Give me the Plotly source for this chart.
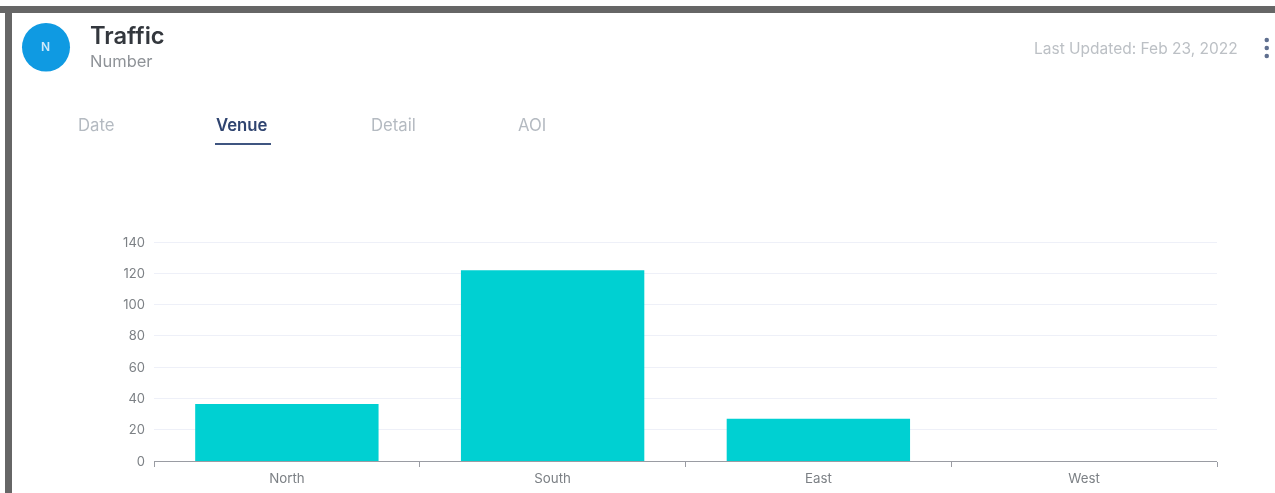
import plotly.graph_objects as go

W, H = 1275, 493
venues = ["North", "South", "East", "West"]
traffic = [36.5, 122, 27, 0]
y_ticks = [0, 20, 40, 60, 80, 100, 120, 140]
tabs = ["Date", "Venue", "Detail", "AOI"]
tab_centers = [96, 242, 393, 532]
FONT = "Inter, Roboto, sans-serif"


def px(x):
    return x / W


def py(y):
    return 1 - y / H


fig = go.Figure(
    go.Bar(x=venues, y=traffic, marker=dict(color="#00d0d2", line=dict(width=0)), width=0.69)
)

shapes = [
    dict(type="rect", xref="paper", yref="paper", x0=px(0), x1=px(W), y0=py(6), y1=py(13),
         fillcolor="#666666", line_width=0, layer="above"),
    dict(type="rect", xref="paper", yref="paper", x0=px(5), x1=px(12), y0=py(6), y1=py(H),
         fillcolor="#666666", line_width=0, layer="above"),
    dict(type="circle", xref="paper", yref="paper", x0=px(22), x1=px(70), y0=py(71.5), y1=py(23),
         fillcolor="#0f9ae2", line_width=0, layer="above"),
    dict(type="rect", xref="paper", yref="paper", x0=px(215), x1=px(271), y0=py(145), y1=py(143),
         fillcolor="#3f5580", line_width=0, layer="above"),
]
for cy in (40, 48, 56):
    shapes.append(dict(type="circle", xref="paper", yref="paper", x0=px(1264.5), x1=px(1269),
                       y0=py(cy + 2.3), y1=py(cy - 2.3), fillcolor="#5f6f8f", line_width=0,
                       layer="above"))


def label(text, x, y, size, color, anchor="left", weight=None):
    return dict(text=text, xref="paper", yref="paper", x=px(x), y=py(y), showarrow=False,
                xanchor=anchor, yanchor="middle",
                font=dict(family=FONT, size=size, color=color, weight=weight))


annotations = [
    label("N", 45.5, 46.5, 12, "#cfe9fa", "center", 600),
    label("Traffic", 88, 35.5, 23.7, "#33373d", "left", 600),
    label("Number", 87.5, 61, 16.5, "#8f9398"),
    label("Last Updated: Feb 23, 2022", 1240, 48, 15.5, "#bcc0c5", "right"),
]
for name, cx in zip(tabs, tab_centers):
    active = name == "Venue"
    annotations.append(label(name, cx, 125, 16.7, "#2f4470" if active else "#b4bac1", "center",
                             600 if active else 400))

fig.update_layout(
    width=W, height=H,
    autosize=False,
    margin=dict(l=0, r=0, t=0, b=0),
    paper_bgcolor="white",
    plot_bgcolor="white",
    showlegend=False,
    font=dict(family=FONT, size=13, color="#7c8085"),
    shapes=shapes,
    annotations=annotations,
    xaxis=dict(
        domain=[px(154), px(1217)],
        tickson="boundaries", ticks="outside", ticklen=5, tickcolor="#9a9ca3", tickwidth=1,
        showline=True, linecolor="#9a9ca3", linewidth=1, showgrid=False,
        tickfont=dict(size=13.3, color="#7c8085"), ticklabelstandoff=5,
        range=[-0.5, 3.5], automargin=False,
    ),
    yaxis=dict(
        domain=[py(461), py(238)],
        range=[0, 142.56], tickvals=y_ticks, ticks="", showline=False,
        gridcolor="#eef0f8", gridwidth=1, zeroline=False,
        tickfont=dict(size=13, color="#7c8085"), ticklabelstandoff=8, automargin=False,
    ),
)

fig.write_html(
    "out.html",
    config={"displayModeBar": False},
    post_script="document.body.style.margin='0';document.body.style.overflow='hidden';"
    "document.querySelector('.plotly-graph-div').style.filter='blur(0.6px)';",
)
